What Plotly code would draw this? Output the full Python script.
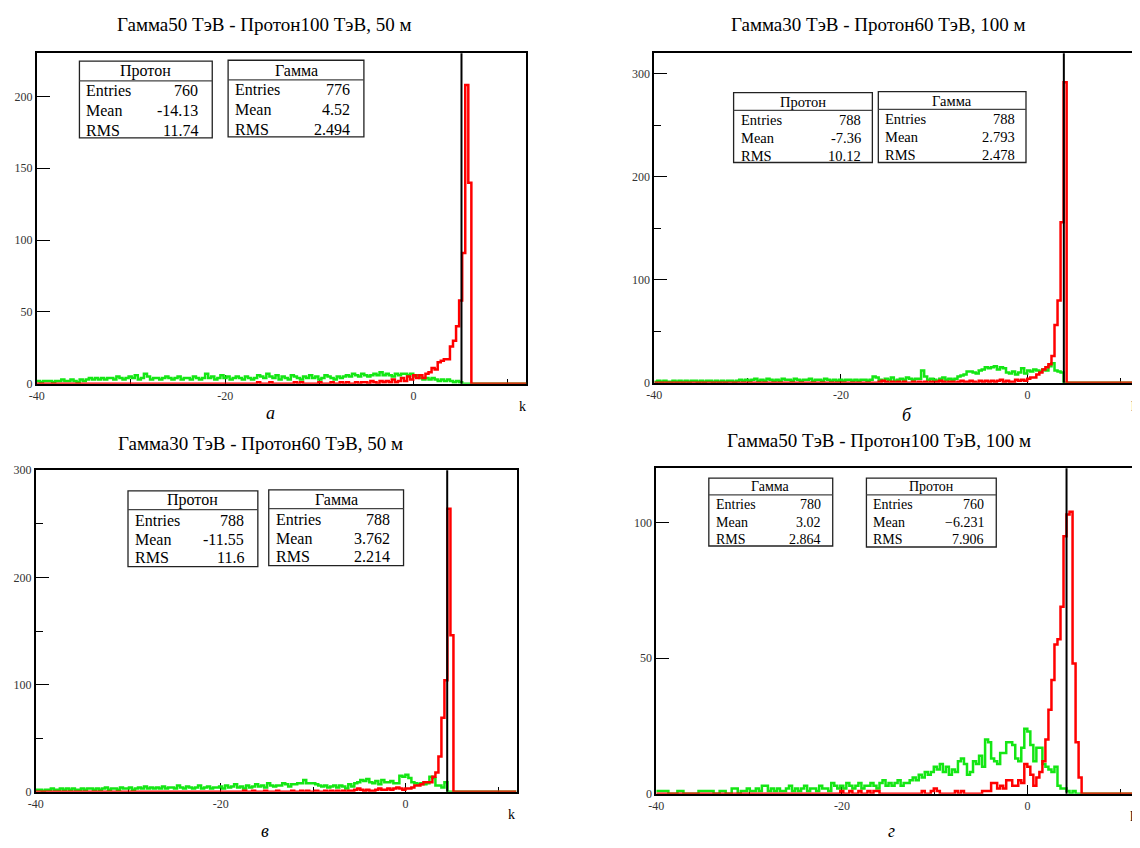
import numpy as np
import plotly.graph_objects as go

# reference canvas and page offset (browser body margin)
W, H = 1140, 848
OFF = 8
FW, FH = W - OFF, H - OFF
K_MIN, K_MAX, N_BINS = -40.0, 12.0, 160

titles = ["Гамма50 ТэВ - Протон100 ТэВ, 50 м",
          "Гамма30 ТэВ - Протон60 ТэВ, 100 м",
          "Гамма30 ТэВ - Протон60 ТэВ, 50 м",
          "Гамма50 ТэВ - Протон100 ТэВ, 100 м"]
letters = ["а", "б", "в", "г"]
cuts = [5.1, 3.9, 4.5, 4.2]
x_ticks = [-40, -20, 0]

# ---- panel а ----
green_a = [2,1,2,2,2,1,2,2,3,2, 2,3,2,1,3,2,3,4,3,4, 3,4,3,4,4,3,5,4,3,4,
           5,4,6,3,4,7,5,3,4,4, 3,4,5,4,3,4,5,3,4,4, 3,5,4,3,4,7,4,5,3,4,
           6,4,5,3,4,5,4,3,5,4, 3,4,6,5,4,7,5,4,6,3, 5,4,3,6,5,4,3,5,4,6,
           4,5,3,4,6,5,4,3,5,4, 5,6,5,7,6,5,7,6,5,6, 7,6,8,6,7,6,5,7,6,7,
           7,6,7,5,6,4,3,4,3,4, 3,2,3,2,3,2,1,2,1,0, 0,0,0,0,0,0,0,0,0,0,
           0,0,0,0,0,0,0,0,0,0]
red_a = [0,0,0,0,0,0,0,0,0,0, 0,0,0,0,0,0,0,0,0,0, 0,0,0,0,0,0,0,0,0,0,
         0,0,0,0,0,0,0,0,0,0, 0,0,0,0,0,0,0,0,0,0, 0,0,0,0,0,0,0,0,0,0,
         0,0,0,0,0,0,0,0,0,0, 0,0,1,0,0,0,1,0,0,0, 0,0,0,0,1,0,1,0,0,0,
         0,0,1,0,0,0,1,0,0,1, 0,1,0,0,1,0,1,1,0,2, 1,0,2,1,2,1,3,1,2,4,
         2,5,3,6,4,6,4,7,8,11, 10,15,16,17,17,26,30,40,58,91,
         208,140,0,0,0,0,0,0,0,0, 0,0,0,0,0,0,0,0,0,0]

# ---- panel б ----
green_b = [1,2,1,2,1,1,2,1,2,1, 2,1,2,2,1,2,1,2,2,1, 2,1,2,1,2,2,1,2,3,2,
           3,2,3,4,2,3,2,4,3,2, 3,2,4,3,3,2,4,3,2,3, 3,4,2,3,3,2,4,3,2,3,
           2,3,2,3,3,2,3,2,3,3, 2,3,6,5,3,2,4,3,5,2, 3,4,3,5,4,3,4,4,12,6,
           3,4,3,2,4,5,3,4,3,4, 6,7,8,11,11,10,9,12,13,15, 14,15,16,13,15,14,10,9,11,8,
           10,14,9,12,11,13,12,11,13,12, 16,19,12,11,10,0,0,0,0,0,
           0,0,0,0,0,0,0,0,0,0, 0,0,0,0,0,0,0,0,0,0]
red_b = [0,0,0,0,0,0,0,0,0,0, 0,0,0,0,0,0,0,0,0,0, 0,0,0,0,0,0,0,0,0,0,
         0,0,0,0,0,0,0,0,0,0, 0,0,0,0,0,0,0,0,0,0, 0,0,0,0,0,0,0,0,0,0,
         0,0,0,0,0,0,0,0,0,0, 0,0,0,0,1,2,1,0,1,0, 1,0,1,0,0,1,0,1,0,1,
         0,1,0,1,2,1,0,1,1,0, 1,2,1,1,2,1,0,2,1,2, 1,2,1,2,3,1,2,1,1,3,
         2,3,2,4,5,5,8,10,13,15, 18,26,56,80,156,292,0,0,0,0,
         0,0,0,0,0,0,0,0,0,0, 0,0,0,0,0,0,0,0,0,0]

# ---- panel в ----
green_c = [2,2,1,2,2,3,2,2,3,2, 3,2,3,2,2,3,2,3,3,2, 3,2,3,4,2,3,3,2,4,3,
           3,4,2,3,4,3,5,3,4,3, 4,3,5,3,4,4,3,6,4,3, 5,4,3,4,6,3,4,5,3,4,
           4,5,3,6,4,5,7,4,5,3, 6,4,5,7,5,6,4,8,6,5, 6,6,8,7,5,7,7,8,8,11,
           8,8,8,7,6,5,6,4,5,6, 4,6,5,3,7,5,8,9,11,10, 12,9,8,10,7,11,9,9,10,8,
           8,15,14,16,13,9,8,7,8,7, 8,14,13,6,6,4,9,0,0,0,
           0,0,0,0,0,0,0,0,0,0, 0,0,0,0,0,0,0,0,0,0]
red_c = [0,0,0,0,0,0,0,0,0,0, 0,0,0,0,0,0,0,0,0,0, 0,0,0,0,0,0,0,0,0,0,
         0,0,0,0,0,0,0,0,0,0, 0,0,0,0,0,0,0,0,0,0, 0,0,0,0,0,0,0,0,0,0,
         0,0,0,0,0,0,0,0,0,1, 0,0,1,0,0,0,1,0,0,0, 1,0,0,0,0,1,0,0,1,0,
         1,0,0,1,0,0,1,0,1,0, 1,0,1,0,1,1,2,3,2,1, 2,1,1,2,3,2,2,3,2,3,
         4,3,2,3,3,4,6,6,7,9, 9,9,14,18,33,69,104,264,146,0,
         0,0,0,0,0,0,0,0,0,0, 0,0,0,0,0,0,0,0,0,0]

# ---- panel г ----
green_d = [1,1,1,1,0,0,0,1,1,0, 0,0,0,0,1,1,1,1,1,0, 0,1,1,0,0,2,2,0,1,1,
           2,1,1,2,1,3,3,1,2,1, 2,1,1,2,3,1,2,1,2,3, 1,2,2,1,3,2,2,1,4,3,
           2,3,2,4,3,2,3,4,2,3, 3,4,3,2,4,5,3,4,3,4, 5,3,4,4,5,6,5,7,6,8,
           7,8,10,9,11,8,10,7,9,8, 12,13,11,7,8,12,11,14,10,20, 19,13,12,11,15,15,19,19,18,13,
           12,17,24,23,18,12,17,17,11,10, 9,8,10,3,2,2,1,0,1,0,
           0,0,0,0,0,0,0,0,0,0, 0,0,0,0,0,0,0,0,0,0]
red_d = [0,0,0,0,0,0,0,0,0,0, 0,0,0,0,0,0,0,0,0,0, 0,0,0,0,0,0,0,0,0,0,
         0,0,0,0,0,0,0,0,0,0, 0,0,0,0,0,0,0,0,0,0, 0,0,0,0,0,0,0,0,0,0,
         0,1,0,0,1,0,0,1,0,0, 1,0,1,1,0,0,0,0,0,0, 0,0,0,0,0,0,0,0,1,0,
         0,1,2,1,0,0,0,0,0,1, 0,1,0,0,0,0,0,0,1,1, 1,4,4,2,3,2,5,5,3,3,
         5,4,11,10,7,3,6,8,12,20, 31,42,55,57,69,95,103,104,48,19,
         6,0,0,0,0,0,0,0,0,0, 0,0,0,0,0,0,0,0,0,0]

stats_a = [("Протон", "760", "-14.13", "11.74"), ("Гамма", "776", "4.52", "2.494")]
stats_b = [("Протон", "788", "-7.36", "10.12"), ("Гамма", "788", "2.793", "2.478")]
stats_c = [("Протон", "788", "-11.55", "11.6"), ("Гамма", "788", "3.762", "2.214")]
stats_d = [("Гамма", "780", "3.02", "2.864"), ("Протон", "760", "\u22126.231", "7.906")]
row_names = ["Entries", "Mean", "RMS"]

greens = [green_a, green_b, green_c, green_d]
reds = [red_a, red_b, red_c, red_d]
stats = [stats_a, stats_b, stats_c, stats_d]

# ---- layout geometry (reference pixels) ----
panels = [
    dict(px=(29, 523), py=(47, 383), xmax=12.0, ymax=230, dy=50, minor=None,
         boxes=[(72, 206, 55, 133), (222, 359, 54, 132)], hh=20, rows=(30, 50, 70), fs=16, vpad=12,
         title=(258, 18), letter=(265, 413), k=(519, 406)),
    dict(px=(652, 1140), py=(47, 382), xmax=11.85, ymax=320, dy=100, minor=50,
         boxes=[(732, 872, 87, 158), (878, 1027, 86, 158)], hh=18, rows=(28, 46, 64), fs=14.5, vpad=9,
         title=(878, 18), letter=(907, 415), k=(1136, 406)),
    dict(px=(28, 513), py=(471, 798), xmax=12.0, ymax=300, dy=100, minor=50,
         boxes=[(121, 252, 492, 569), (263, 399, 491, 568)], hh=19, rows=(30, 49, 68), fs=16, vpad=12,
         title=(255, 444), letter=(259, 838), k=(508, 821)),
    dict(px=(654, 1140), py=(469, 800), xmax=11.9, ymax=120, dy=50, minor=None,
         boxes=[(707, 832, 479, 548), (866, 997, 479, 549)], hh=17, rows=(27, 45, 62), fs=14, vpad=10,
         title=(879, 441), letter=(891, 838), k=(1135, 823)),
]

FONT = "Liberation Serif"
GREEN = "#14e614"
RED = "#ff0000"

def fx(x):
    return (x - OFF) / FW

def fy(y):
    return 1 - (y - OFF) / FH

edges = np.linspace(K_MIN, K_MAX, N_BINS + 1)

fig = go.Figure()
layout = dict(width=FW, height=FH, margin=dict(l=0, r=0, t=0, b=0), autosize=False,
              paper_bgcolor="white", plot_bgcolor="white", showlegend=False)
shapes = []
annotations = []

for p, (pan, g, r, st, ttl, let, cut) in enumerate(zip(panels, greens, reds, stats, titles, letters, cuts)):
    n = "" if p == 0 else str(p + 1)
    xname, yname = "x" + n, "y" + n
    for vals, col in ((g, GREEN), (r, RED)):
        fig.add_trace(go.Scatter(x=edges, y=list(vals) + [vals[-1]], mode="lines",
                                 line=dict(color=col, width=2.5, shape="hv"),
                                 xaxis=xname, yaxis=yname, hoverinfo="skip"))
    xa = dict(domain=[fx(pan["px"][0]), min(1.0, fx(pan["px"][1]))], range=[K_MIN, pan["xmax"]], anchor=yname,
              tickmode="array", tickvals=x_ticks, ticktext=[str(v) for v in x_ticks],
              ticks="inside", ticklen=9, tickwidth=1, tickcolor="black",
              minor=dict(tickmode="array", tickvals=[-30, -10, 10], ticks="inside", ticklen=5,
                         tickcolor="black", tickwidth=1),
              showline=True, linecolor="black", linewidth=1.5, mirror=True,
              showgrid=False, zeroline=False, layer="below traces",
              tickfont=dict(family=FONT, size=12, color="#333"))
    ya = dict(domain=[fy(pan["py"][1]), fy(pan["py"][0])], range=[0, pan["ymax"]], anchor=xname,
              tickmode="linear", tick0=0, dtick=pan["dy"],
              ticks="inside", ticklen=13, tickwidth=1.2, tickcolor="black",
              showline=True, linecolor="black", linewidth=1.8, mirror=True,
              showgrid=False, zeroline=False, layer="below traces",
              tickfont=dict(family=FONT, size=12, color="#333"))
    if pan["minor"]:
        ya["minor"] = dict(dtick=pan["minor"], tick0=0, ticks="inside", ticklen=7,
                           tickcolor="black", tickwidth=1)
    layout["xaxis" + n] = xa
    layout["yaxis" + n] = ya

    shapes.append(dict(type="line", xref=xname, yref=yname + " domain", x0=cut, x1=cut, y0=0, y1=1,
                       line=dict(color="black", width=2), layer="above"))

    annotations.append(dict(x=fx(pan["title"][0]), y=fy(pan["title"][1]), xref="paper", yref="paper",
                            text=ttl, showarrow=False, xanchor="center", yanchor="middle",
                            font=dict(family=FONT, size=19, color="black")))
    annotations.append(dict(x=fx(pan["letter"][0]), y=fy(pan["letter"][1]), xref="paper", yref="paper",
                            text="<i>" + let + "</i>", showarrow=False, xanchor="center", yanchor="middle",
                            font=dict(family=FONT, size=18, color="black")))
    annotations.append(dict(x=fx(pan["k"][0]), y=fy(pan["k"][1]), xref="paper", yref="paper",
                            text="k", showarrow=False, xanchor="center", yanchor="middle",
                            font=dict(family=FONT, size=14, color="black")))

    for (l, rr, t, b), (name, ent, mean, rms) in zip(pan["boxes"], st):
        shapes.append(dict(type="rect", xref="paper", yref="paper", x0=fx(l), x1=fx(rr), y0=fy(b), y1=fy(t),
                           line=dict(color="#222", width=1.3), fillcolor="white", layer="above"))
        shapes.append(dict(type="line", xref="paper", yref="paper", x0=fx(l), x1=fx(rr),
                           y0=fy(t + pan["hh"]), y1=fy(t + pan["hh"]),
                           line=dict(color="#444", width=1.3), layer="above"))
        annotations.append(dict(x=fx((l + rr) / 2), y=fy(t + pan["hh"] / 2), xref="paper", yref="paper",
                                text=name, showarrow=False, xanchor="center", yanchor="middle",
                                font=dict(family=FONT, size=pan["fs"], color="black")))
        for rn, val, dyy in zip(row_names, (ent, mean, rms), pan["rows"]):
            annotations.append(dict(x=fx(l + 5), y=fy(t + dyy), xref="paper", yref="paper",
                                    text=rn, showarrow=False, xanchor="left", yanchor="middle",
                                    font=dict(family=FONT, size=pan["fs"], color="black")))
            annotations.append(dict(x=fx(rr - pan["vpad"]), y=fy(t + dyy), xref="paper", yref="paper",
                                    text=val, showarrow=False, xanchor="right", yanchor="middle",
                                    font=dict(family=FONT, size=pan["fs"], color="black")))

layout["shapes"] = shapes
layout["annotations"] = annotations
fig.update_layout(**layout)
fig.write_html("out.html")
